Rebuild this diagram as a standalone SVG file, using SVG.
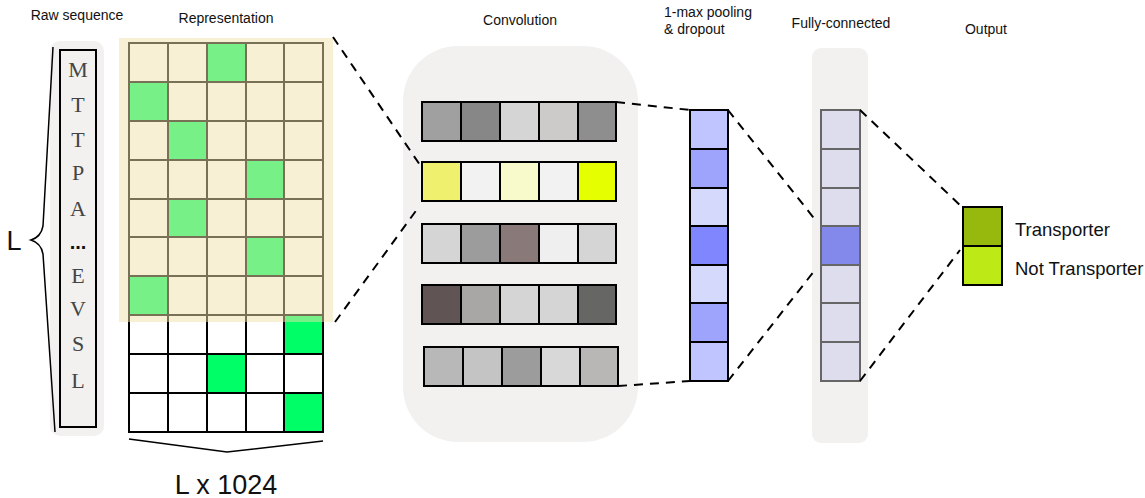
<svg xmlns="http://www.w3.org/2000/svg" width="1145" height="498" viewBox="0 0 1145 498">
<style>
.lbl{font-family:"Liberation Sans",Arial,sans-serif;font-size:14px;fill:#111}
.big{font-family:"Liberation Sans",Arial,sans-serif;font-size:27px;fill:#111}
.out{font-family:"Liberation Sans",Arial,sans-serif;font-size:18.5px;fill:#111}
.seq{font-family:"Liberation Serif","Times New Roman",serif;font-size:22px;fill:#444;text-anchor:middle}
.dots{font-family:"Liberation Sans",Arial,sans-serif;font-size:20px;font-weight:bold;fill:#111;text-anchor:middle}
.cell{stroke:#000;stroke-width:2}
.fc{stroke:#666;stroke-width:2}
.dash{fill:none;stroke:#000;stroke-width:2;stroke-dasharray:9 7}
.brace{fill:none;stroke:#000;stroke-width:1.5}
.bg{fill:#f2f1f0}
</style>
<rect width="1145" height="498" fill="#fff"/>

<g id="raw-sequence">
<text class="lbl" x="77" y="20" text-anchor="middle">Raw sequence</text>
<rect class="bg" x="50" y="41" width="54" height="395" rx="10"/>
<rect x="60" y="50" width="36" height="377" fill="#f2f1f0" stroke="#000" stroke-width="2"/>
<text class="seq" x="78" y="77">M</text>
<text class="seq" x="78" y="112">T</text>
<text class="seq" x="78" y="147">T</text>
<text class="seq" x="78" y="180">P</text>
<text class="seq" x="78" y="216">A</text>
<text class="dots" x="78" y="249">...</text>
<text class="seq" x="78" y="283">E</text>
<text class="seq" x="78" y="316">V</text>
<text class="seq" x="78" y="351">S</text>
<text class="seq" x="78" y="388">L</text>
<path class="brace" d="M53 47 L43 226 Q41 237 31 240 Q41 243 43 254 L55 432"/>
<text class="big" x="14" y="250" text-anchor="middle">L</text>
</g>

<g id="representation">
<text class="lbl" x="226" y="23" text-anchor="middle">Representation</text>
<g fill="#fff">
<rect class="cell" x="129" y="43" width="39" height="39"/><rect class="cell" x="168" y="43" width="39" height="39"/><rect class="cell" x="207" y="43" width="39" height="39" fill="#00ff66"/><rect class="cell" x="246" y="43" width="38" height="39"/><rect class="cell" x="284" y="43" width="39" height="39"/>
<rect class="cell" x="129" y="82" width="39" height="39" fill="#00ff66"/><rect class="cell" x="168" y="82" width="39" height="39"/><rect class="cell" x="207" y="82" width="39" height="39"/><rect class="cell" x="246" y="82" width="38" height="39"/><rect class="cell" x="284" y="82" width="39" height="39"/>
<rect class="cell" x="129" y="121" width="39" height="39"/><rect class="cell" x="168" y="121" width="39" height="39" fill="#00ff66"/><rect class="cell" x="207" y="121" width="39" height="39"/><rect class="cell" x="246" y="121" width="38" height="39"/><rect class="cell" x="284" y="121" width="39" height="39"/>
<rect class="cell" x="129" y="160" width="39" height="39"/><rect class="cell" x="168" y="160" width="39" height="39"/><rect class="cell" x="207" y="160" width="39" height="39"/><rect class="cell" x="246" y="160" width="38" height="39" fill="#00ff66"/><rect class="cell" x="284" y="160" width="39" height="39"/>
<rect class="cell" x="129" y="199" width="39" height="38"/><rect class="cell" x="168" y="199" width="39" height="38" fill="#00ff66"/><rect class="cell" x="207" y="199" width="39" height="38"/><rect class="cell" x="246" y="199" width="38" height="38"/><rect class="cell" x="284" y="199" width="39" height="38"/>
<rect class="cell" x="129" y="237" width="39" height="39"/><rect class="cell" x="168" y="237" width="39" height="39"/><rect class="cell" x="207" y="237" width="39" height="39"/><rect class="cell" x="246" y="237" width="38" height="39" fill="#00ff66"/><rect class="cell" x="284" y="237" width="39" height="39"/>
<rect class="cell" x="129" y="276" width="39" height="39" fill="#00ff66"/><rect class="cell" x="168" y="276" width="39" height="39"/><rect class="cell" x="207" y="276" width="39" height="39"/><rect class="cell" x="246" y="276" width="38" height="39"/><rect class="cell" x="284" y="276" width="39" height="39"/>
<rect class="cell" x="129" y="315" width="39" height="39"/><rect class="cell" x="168" y="315" width="39" height="39"/><rect class="cell" x="207" y="315" width="39" height="39"/><rect class="cell" x="246" y="315" width="38" height="39"/><rect class="cell" x="284" y="315" width="39" height="39" fill="#00ff66"/>
<rect class="cell" x="129" y="354" width="39" height="39"/><rect class="cell" x="168" y="354" width="39" height="39"/><rect class="cell" x="207" y="354" width="39" height="39" fill="#00ff66"/><rect class="cell" x="246" y="354" width="38" height="39"/><rect class="cell" x="284" y="354" width="39" height="39"/>
<rect class="cell" x="129" y="393" width="39" height="39"/><rect class="cell" x="168" y="393" width="39" height="39"/><rect class="cell" x="207" y="393" width="39" height="39"/><rect class="cell" x="246" y="393" width="38" height="39"/><rect class="cell" x="284" y="393" width="39" height="39" fill="#00ff66"/>
</g>
<rect x="119" y="38" width="214" height="284" fill="#f0e1a9" fill-opacity="0.5"/>
<path class="brace" d="M129 439 L227 452 L323 441"/>
<text class="big" x="226" y="494" text-anchor="middle">L x 1024</text>
</g>

<g id="convolution">
<text class="lbl" x="520" y="25" text-anchor="middle">Convolution</text>
<rect class="bg" x="403" y="46" width="235" height="396" rx="55"/>
<rect class="cell" x="422" y="102" width="39" height="39" fill="#a0a0a0"/><rect class="cell" x="461" y="102" width="39" height="39" fill="#878787"/><rect class="cell" x="500" y="102" width="39" height="39" fill="#d5d5d5"/><rect class="cell" x="539" y="102" width="39" height="39" fill="#cdcaca"/><rect class="cell" x="578" y="102" width="38" height="39" fill="#8e8e8e"/>
<rect class="cell" x="422" y="162" width="39" height="39" fill="#eff06e"/><rect class="cell" x="461" y="162" width="39" height="39" fill="#f2f2f2"/><rect class="cell" x="500" y="162" width="39" height="39" fill="#f8facb"/><rect class="cell" x="539" y="162" width="39" height="39" fill="#f2f2f2"/><rect class="cell" x="578" y="162" width="38" height="39" fill="#e6ff00"/>
<rect class="cell" x="422" y="224" width="39" height="39" fill="#d5d5d5"/><rect class="cell" x="461" y="224" width="39" height="39" fill="#9c9c9c"/><rect class="cell" x="500" y="224" width="39" height="39" fill="#897978"/><rect class="cell" x="539" y="224" width="39" height="39" fill="#f0eff0"/><rect class="cell" x="578" y="224" width="38" height="39" fill="#d5d5d5"/>
<rect class="cell" x="422" y="285" width="39" height="39" fill="#605554"/><rect class="cell" x="461" y="285" width="39" height="39" fill="#a8a7a6"/><rect class="cell" x="500" y="285" width="39" height="39" fill="#d5d5d5"/><rect class="cell" x="539" y="285" width="39" height="39" fill="#d5d5d5"/><rect class="cell" x="578" y="285" width="38" height="39" fill="#666664"/>
<rect class="cell" x="424" y="347" width="39" height="39" fill="#b8b8b8"/><rect class="cell" x="463" y="347" width="39" height="39" fill="#c4c4c4"/><rect class="cell" x="502" y="347" width="39" height="39" fill="#9c9c9c"/><rect class="cell" x="541" y="347" width="39" height="39" fill="#d8d8d8"/><rect class="cell" x="580" y="347" width="38" height="39" fill="#b8b7b5"/>
</g>

<g id="pooling">
<text class="lbl" x="664" y="17">1-max pooling</text>
<text class="lbl" x="664" y="34">&amp; dropout</text>
<rect class="cell" x="690" y="110" width="38" height="39" fill="#c0c4ff"/>
<rect class="cell" x="690" y="149" width="38" height="39" fill="#9ea4fc"/>
<rect class="cell" x="690" y="188" width="38" height="38" fill="#d5dafd"/>
<rect class="cell" x="690" y="226" width="38" height="39" fill="#7f86fe"/>
<rect class="cell" x="690" y="265" width="38" height="38" fill="#d5dafd"/>
<rect class="cell" x="690" y="303" width="38" height="39" fill="#9ea4fc"/>
<rect class="cell" x="690" y="342" width="38" height="39" fill="#c0c4ff"/>
</g>

<g id="fully-connected">
<text class="lbl" x="841" y="28" text-anchor="middle">Fully-connected</text>
<rect class="bg" x="812" y="48" width="56" height="395" rx="9"/>
<rect class="fc" x="821" y="110" width="39" height="39" fill="#dedded"/>
<rect class="fc" x="821" y="149" width="39" height="39" fill="#dedded"/>
<rect class="fc" x="821" y="188" width="39" height="38" fill="#dedded"/>
<rect class="fc" x="821" y="226" width="39" height="39" fill="#8389eb"/>
<rect class="fc" x="821" y="265" width="39" height="38" fill="#dedded"/>
<rect class="fc" x="821" y="303" width="39" height="39" fill="#dedded"/>
<rect class="fc" x="821" y="342" width="39" height="39" fill="#dedded"/>
</g>

<g id="output">
<text class="lbl" x="986" y="34" text-anchor="middle">Output</text>
<rect class="cell" x="963" y="207" width="39" height="39" fill="#97b90e"/>
<rect class="cell" x="963" y="246" width="39" height="39" fill="#bde916"/>
<text class="out" x="1015" y="236">Transporter</text>
<text class="out" x="1015" y="275">Not Transporter</text>
</g>

<g id="connectors">
<path class="dash" d="M333 37 L420 165"/>
<path class="dash" d="M335 322 L418 208"/>
<path class="dash" d="M616 102 L690 110"/>
<path class="dash" d="M618 386 L690 381"/>
<path class="dash" d="M728 110 L817 222"/>
<path class="dash" d="M728 381 L815 270"/>
<path class="dash" d="M860 110 L962 207"/>
<path class="dash" d="M860 381 L960 250"/>
</g>
</svg>
